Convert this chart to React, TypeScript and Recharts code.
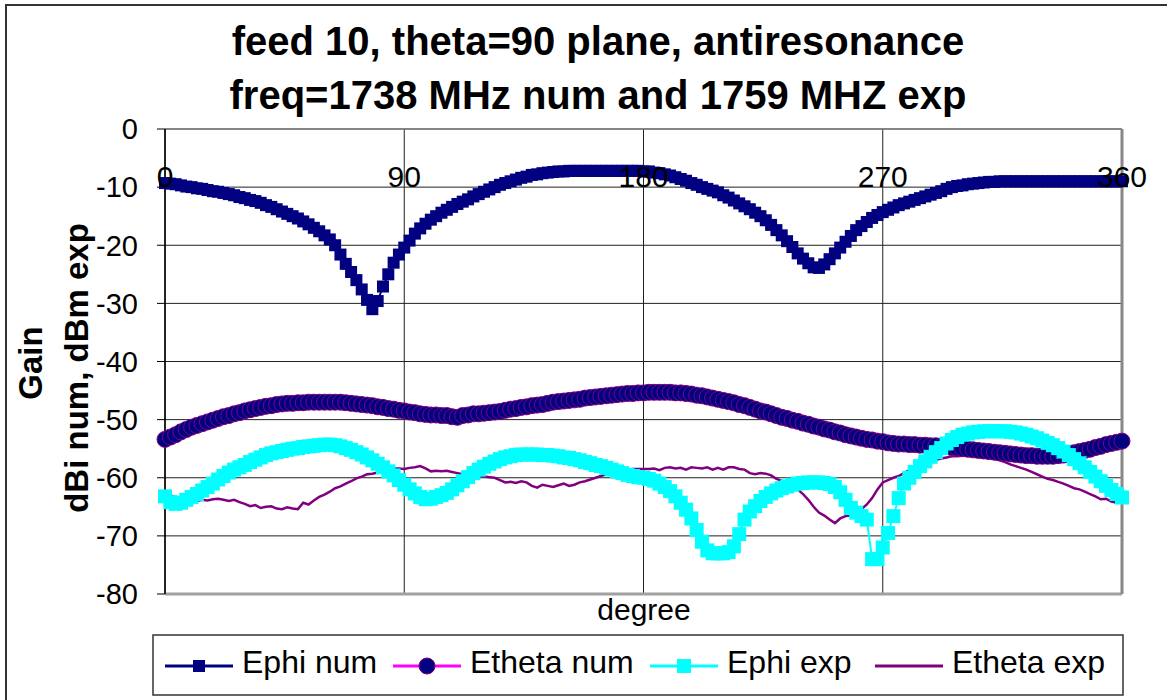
import { CartesianGrid, Line, LineChart, ReferenceLine, XAxis, YAxis } from "recharts";

const FONT = "'Liberation Sans', Arial, sans-serif";

// angle grid, one sample every 2 degrees
const degrees = Array.from({ length: 181 }, (_, i) => i * 2);

const ephiNum = [
  -9.3, -9.4, -9.5, -9.7, -9.9, -10.0, -10.2, -10.3, -10.5, -10.7,
  -10.8, -11.0, -11.2, -11.4, -11.7, -11.9, -12.2, -12.4, -12.7, -13.1,
  -13.4, -13.8, -14.2, -14.6, -15.0, -15.4, -15.9, -16.4, -17.0, -17.6,
  -18.3, -19.0, -20.0, -21.6, -23.2, -24.6, -26.0, -27.6, -29.4, -31.0,
  -29.6, -27.1, -25.0, -23.0, -21.6, -20.4, -19.2, -18.0, -17.1, -16.3,
  -15.6, -15.0, -14.4, -13.9, -13.4, -12.9, -12.5, -12.1, -11.6, -11.2,
  -10.8, -10.4, -10.0, -9.6, -9.3, -9.0, -8.7, -8.4, -8.2, -7.9,
  -7.8, -7.6, -7.5, -7.4, -7.3, -7.3, -7.2, -7.2, -7.2, -7.2,
  -7.2, -7.2, -7.2, -7.2, -7.2, -7.2, -7.2, -7.2, -7.2, -7.2,
  -7.3, -7.3, -7.5, -7.6, -7.8, -8.0, -8.3, -8.6, -8.9, -9.3,
  -9.6, -10.0, -10.3, -10.6, -10.9, -11.4, -11.8, -12.3, -12.8, -13.3,
  -13.8, -14.4, -15.0, -15.7, -16.5, -17.4, -18.3, -19.3, -20.3, -21.4,
  -22.3, -23.1, -23.8, -23.9, -23.3, -22.4, -21.4, -20.4, -19.4, -18.4,
  -17.4, -16.7, -16.0, -15.3, -14.8, -14.3, -13.9, -13.5, -13.1, -12.8,
  -12.5, -12.2, -11.9, -11.6, -11.3, -11.0, -10.7, -10.3, -10.0, -9.8,
  -9.7, -9.5, -9.4, -9.3, -9.2, -9.1, -9.1, -9.0, -9.0, -9.0,
  -9.0, -9.0, -9.0, -9.0, -9.0, -9.0, -9.0, -9.0, -9.0, -9.0,
  -9.0, -9.0, -9.0, -9.0, -9.0, -9.0, -9.0, -9.0, -9.0, -9.0,
  -9.0
];

const ethetaNum = [
  -53.4, -53.0, -52.6, -52.1, -51.7, -51.3, -51.0, -50.7, -50.4, -50.1,
  -49.8, -49.5, -49.3, -49.0, -48.8, -48.5, -48.3, -48.1, -47.9, -47.7,
  -47.6, -47.4, -47.3, -47.2, -47.2, -47.1, -47.1, -47.0, -47.0, -47.0,
  -47.0, -47.0, -47.0, -47.0, -47.1, -47.2, -47.3, -47.4, -47.5, -47.6,
  -47.8, -47.9, -48.1, -48.2, -48.4, -48.5, -48.7, -48.8, -49.0, -49.1,
  -49.2, -49.2, -49.3, -49.3, -49.5, -49.6, -49.3, -49.2, -49.0, -49.0,
  -48.9, -48.8, -48.7, -48.6, -48.4, -48.2, -48.1, -47.9, -47.8, -47.6,
  -47.5, -47.4, -47.2, -47.0, -46.9, -46.8, -46.7, -46.6, -46.5, -46.3,
  -46.2, -46.1, -46.0, -45.9, -45.8, -45.7, -45.6, -45.5, -45.5, -45.4,
  -45.4, -45.3, -45.3, -45.3, -45.3, -45.3, -45.4, -45.4, -45.5, -45.6,
  -45.8, -45.9, -46.1, -46.3, -46.5, -46.7, -46.9, -47.1, -47.4, -47.6,
  -47.9, -48.2, -48.5, -48.7, -49.0, -49.3, -49.6, -49.8, -50.1, -50.3,
  -50.6, -50.8, -51.1, -51.3, -51.6, -51.8, -52.1, -52.3, -52.6, -52.8,
  -53.0, -53.2, -53.4, -53.5, -53.7, -53.8, -54.0, -54.1, -54.2, -54.2,
  -54.3, -54.3, -54.4, -54.4, -54.5, -54.5, -54.6, -54.6, -54.8, -54.9,
  -55.0, -55.1, -55.2, -55.3, -55.4, -55.5, -55.6, -55.7, -55.8, -55.9,
  -56.0, -56.1, -56.2, -56.2, -56.3, -56.3, -56.3, -56.3, -56.2, -56.1,
  -55.9, -55.7, -55.5, -55.3, -55.1, -54.8, -54.6, -54.3, -54.1, -53.9,
  -53.7
];

const ephiExp = [
  -63.2, -64.2, -64.5, -64.3, -63.8, -63.3, -62.8, -62.2, -61.6, -61.0,
  -60.3, -59.7, -59.1, -58.6, -58.2, -57.8, -57.3, -56.9, -56.5, -56.1,
  -55.8, -55.6, -55.4, -55.2, -55.0, -54.9, -54.7, -54.6, -54.5, -54.4,
  -54.3, -54.3, -54.4, -54.6, -54.9, -55.2, -55.6, -56.0, -56.5, -57.0,
  -57.6, -58.2, -58.9, -59.6, -60.4, -61.2, -62.0, -62.7, -63.3, -63.7,
  -63.6, -63.3, -63.0, -62.6, -62.0, -61.3, -60.6, -59.9, -59.2, -58.6,
  -58.1, -57.6, -57.2, -56.8, -56.5, -56.3, -56.1, -56.0, -56.0, -56.0,
  -56.0, -56.1, -56.1, -56.2, -56.3, -56.5, -56.6, -56.8, -57.0, -57.3,
  -57.5, -57.8, -58.0, -58.3, -58.6, -58.9, -59.2, -59.5, -59.7, -59.9,
  -60.0, -60.2, -60.5, -61.0, -61.6, -62.3, -63.2, -64.3, -65.5, -67.0,
  -69.0, -71.0, -72.5, -73.0, -73.0, -73.0, -72.8, -71.8, -69.7, -67.2,
  -65.8, -64.9, -64.0, -63.3, -62.7, -62.2, -61.8, -61.5, -61.2, -61.0,
  -60.9, -60.8, -60.8, -60.8, -60.9, -61.1, -61.6, -62.5, -63.8, -65.2,
  -66.0, -66.6, -67.2, -74.0, -74.0, -72.0, -69.5, -66.6, -63.5, -61.0,
  -60.0, -59.0, -58.0, -57.2, -56.4, -55.6, -54.9, -54.1, -53.5, -53.0,
  -52.6, -52.4, -52.2, -52.1, -52.0, -52.0, -52.0, -52.0, -52.0, -52.1,
  -52.2, -52.4, -52.6, -52.9, -53.2, -53.6, -54.0, -54.4, -54.9, -55.5,
  -56.1, -56.8, -57.5, -58.2, -59.0, -59.8, -60.6, -61.4, -62.1, -62.8,
  -63.4
];

const ethetaExp = [
  -62.5, -63.0, -63.4, -63.4, -63.6, -63.8, -64.0, -63.8, -63.9, -63.7,
  -63.6, -63.8, -64.0, -63.8, -64.2, -64.5, -64.9, -64.7, -65.2, -65.0,
  -64.9, -65.3, -65.4, -65.1, -65.3, -65.4, -64.3, -64.6, -63.9, -63.3,
  -62.9, -62.4, -61.8, -61.5, -61.0, -60.6, -60.1, -59.8, -59.4, -59.3,
  -59.1, -58.8, -58.5, -58.4, -58.4, -58.5, -58.3, -58.2, -58.0, -58.4,
  -58.9, -58.8, -58.9, -58.8, -59.0, -59.2, -59.4, -59.4, -59.5, -59.6,
  -59.8, -59.9, -60.0, -60.4, -60.8, -60.7, -60.9, -60.6, -60.8, -61.4,
  -61.7, -61.2, -61.4, -61.6, -61.3, -61.0, -61.4, -61.2, -60.8, -60.6,
  -60.3, -60.0, -59.7, -59.4, -59.1, -58.9, -58.7, -58.6, -58.5, -58.5,
  -58.5, -58.5, -58.4, -58.7, -58.3, -58.2, -58.4, -58.3, -58.6, -58.2,
  -58.3, -58.4, -58.2, -58.6, -58.3, -58.6, -58.2, -58.2, -58.5, -58.6,
  -59.2, -59.4, -59.2, -59.3, -59.6, -60.2, -60.5, -60.8, -61.3, -62.0,
  -62.8, -63.8, -65.0, -66.0, -66.5, -67.2, -67.8, -67.0, -66.6, -66.5,
  -66.3, -65.4, -64.6, -63.5, -62.0, -60.8, -60.4, -60.0, -59.7, -59.2,
  -58.7, -58.2, -57.9, -57.5, -57.1, -56.9, -56.7, -56.5, -56.3, -56.3,
  -56.2, -56.2, -56.3, -56.4, -56.5, -56.6, -56.8, -57.0, -57.3, -57.7,
  -58.0, -58.3, -58.6, -59.0, -59.4, -59.8, -60.2, -60.4, -60.7, -61.0,
  -61.4, -61.8, -62.0, -62.4, -62.8, -63.2, -63.7, -63.6, -64.1, -64.3,
  -64.0
];

const xTicks = [0, 90, 180, 270, 360];
const yTicks = [0, -10, -20, -30, -40, -50, -60, -70, -80];
const titleLines = ["feed 10, theta=90 plane, antiresonance", "freq=1738 MHz num and 1759 MHZ exp"];
const yLabelLines = ["Gain", "dBi num, dBm exp"];
const xLabel = "degree";

const data = degrees.map((deg, i) => ({
  deg,
  ephiNum: ephiNum[i],
  ethetaNum: ethetaNum[i],
  ephiExp: ephiExp[i],
  ethetaExp: ethetaExp[i]
}));

const squareDot = (size: number, fill: string) => (props: any) => {
  const { cx, cy, index } = props;
  if (cx == null || cy == null) return <g key={`s-${index}`} />;
  return <rect key={`s-${index}`} x={cx - size / 2} y={cy - size / 2} width={size} height={size} fill={fill} />;
};

const circleDot = (props: any) => {
  const { cx, cy, index } = props;
  if (cx == null || cy == null) return <g key={`c-${index}`} />;
  return <circle key={`c-${index}`} cx={cx} cy={cy} r={8} fill="#000080" stroke="#800080" strokeWidth={1} />;
};

const series = [
  { key: "ephiNum", name: "Ephi num", color: "#000080", marker: "square", markerColor: "#000080", size: 12 },
  { key: "ethetaNum", name: "Etheta num", color: "#FF00FF", marker: "circle", markerColor: "#000080", size: 16 },
  { key: "ephiExp", name: "Ephi exp", color: "#00FFFF", marker: "square", markerColor: "#00FFFF", size: 14 },
  { key: "ethetaExp", name: "Etheta exp", color: "#800080", marker: "none", markerColor: "#800080", size: 0 }
];

const legendX = [165, 393, 650, 875];

function TopTick(props: any) {
  const { x, y, payload } = props;
  return (
    <text x={x} y={y + 58} textAnchor="middle" fontSize={30} fontFamily={FONT} fill="#000">
      {payload.value}
    </text>
  );
}

export default function App() {
  return (
    <div style={{ position: "absolute", left: 0, top: 0, width: 1167, height: 700, overflow: "hidden", background: "#fff" }}>
      <div
        style={{
          position: "absolute",
          left: 5,
          top: 4,
          width: 1180,
          height: 720,
          border: "2px solid #333"
        }}
      />
      <div style={{ position: "absolute", left: 0, top: 0 }}>
        <LineChart width={1167} height={700} data={data} margin={{ top: 99, right: 45, bottom: 106, left: 105 }}>
          <CartesianGrid stroke="#202020" strokeWidth={1} />
          <XAxis
            dataKey="deg"
            type="number"
            domain={[0, 360]}
            ticks={xTicks}
            orientation="top"
            height={30}
            axisLine={false}
            tickLine={false}
            tickSize={0}
            tickMargin={0}
            tick={<TopTick />}
            interval={0}
          />
          <YAxis
            type="number"
            domain={[-80, 0]}
            ticks={yTicks}
            width={60}
            interval={0}
            axisLine={{ stroke: "#000", strokeWidth: 1.5 }}
            tickLine={{ stroke: "#000" }}
            tickSize={8}
            tickMargin={19}
            tick={{ fontSize: 29, fill: "#000", fontFamily: FONT }}
          />
          <ReferenceLine y={0} stroke="#808080" strokeWidth={1.5} />
          <ReferenceLine y={-80} stroke="#a0a0a0" strokeWidth={3} />
          <ReferenceLine x={360} stroke="#888" strokeWidth={3} />
          <Line
            dataKey="ephiNum"
            name="Ephi num"
            stroke="#000080"
            strokeWidth={2}
            dot={squareDot(12, "#000080")}
            activeDot={false}
            isAnimationActive={false}
          />
          <Line
            dataKey="ethetaNum"
            name="Etheta num"
            stroke="#FF00FF"
            strokeWidth={2}
            dot={circleDot}
            activeDot={false}
            isAnimationActive={false}
          />
          <Line
            dataKey="ephiExp"
            name="Ephi exp"
            stroke="#00FFFF"
            strokeWidth={2}
            dot={squareDot(14, "#00FFFF")}
            activeDot={false}
            isAnimationActive={false}
          />
          <Line
            dataKey="ethetaExp"
            name="Etheta exp"
            stroke="#800080"
            strokeWidth={2.5}
            dot={false}
            activeDot={false}
            isAnimationActive={false}
          />
        </LineChart>
      </div>
      <svg width={1167} height={700} style={{ position: "absolute", left: 0, top: 0, pointerEvents: "none" }}>
        <text x={598} y={55} textAnchor="middle" fontSize={40} fontWeight="bold" fontFamily={FONT} fill="#000">
          {titleLines[0]}
        </text>
        <text x={598} y={109} textAnchor="middle" fontSize={40} fontWeight="bold" fontFamily={FONT} fill="#000">
          {titleLines[1]}
        </text>
        <text transform="translate(42, 363) rotate(-90)" textAnchor="middle" fontSize={33} fontWeight="bold" fontFamily={FONT} fill="#000">
          {yLabelLines[0]}
        </text>
        <text transform="translate(88, 368) rotate(-90)" textAnchor="middle" fontSize={33} fontWeight="bold" fontFamily={FONT} fill="#000">
          {yLabelLines[1]}
        </text>
        <text x={644} y={620} textAnchor="middle" fontSize={30} fontFamily={FONT} fill="#000">
          {xLabel}
        </text>
        <rect x={153} y={635} width={970} height={60} fill="#fff" stroke="#333" strokeWidth={1.5} />
        {series.map((s, i) => {
          const x0 = legendX[i];
          const cy = 666;
          return (
            <g key={s.key}>
              <line x1={x0} x2={x0 + 68} y1={cy} y2={cy} stroke={s.color} strokeWidth={3} />
              {s.marker === "square" && (
                <rect x={x0 + 34 - s.size / 2} y={cy - s.size / 2} width={s.size} height={s.size} fill={s.markerColor} />
              )}
              {s.marker === "circle" && (
                <ellipse cx={x0 + 34} cy={cy} rx={8} ry={8} fill={s.markerColor} stroke="#800080" strokeWidth={1} />
              )}
              <text x={x0 + 77} y={cy + 7} fontSize={32} fontFamily={FONT} fill="#000">
                {s.name}
              </text>
            </g>
          );
        })}
      </svg>
    </div>
  );
}
